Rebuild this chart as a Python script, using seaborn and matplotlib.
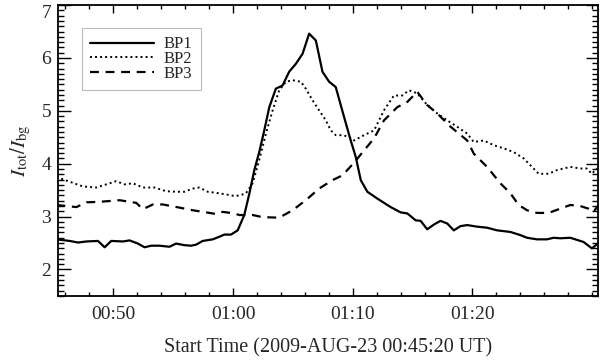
import numpy as np
import pandas as pd
import matplotlib
matplotlib.use("Agg")
import matplotlib.pyplot as plt
import seaborn as sns
from matplotlib.ticker import MultipleLocator, FuncFormatter

# ================= DATA =================
# time in minutes after 00:00 UT, ratio I_tot / I_bg
bp1_t = [45.25, 46.36, 47.06, 47.75, 48.72, 49.28, 49.83, 50.81, 51.36, 52.06,
         52.61, 53.17, 53.86, 54.69, 55.25, 55.94, 56.50, 56.92, 57.47, 58.31,
         58.86, 59.28, 59.83, 60.39, 60.94, 61.36, 61.78, 62.19, 62.61, 63.03,
         63.58, 64.14, 64.69, 65.25, 65.81, 66.36, 66.92, 67.47, 68.03, 68.58,
         69.28, 69.83, 70.25, 70.67, 71.22, 72.06, 73.17, 74.00, 74.56, 75.25,
         75.67, 76.22, 76.78, 77.33, 77.89, 78.44, 79.00, 79.56, 80.39, 81.22,
         82.06, 83.17, 84.00, 84.56, 85.39, 86.22, 86.78, 87.33, 88.17, 89.28,
         89.97, 90.53]
bp1_v = [2.57, 2.54, 2.51, 2.53, 2.54, 2.42, 2.54, 2.53, 2.55, 2.49,
         2.42, 2.45, 2.45, 2.43, 2.49, 2.46, 2.45, 2.47, 2.54, 2.57,
         2.62, 2.66, 2.66, 2.74, 3.03, 3.43, 3.88, 4.22, 4.63, 5.07,
         5.42, 5.48, 5.74, 5.89, 6.08, 6.46, 6.33, 5.74, 5.55, 5.45,
         4.88, 4.44, 4.13, 3.69, 3.47, 3.34, 3.18, 3.08, 3.06, 2.93,
         2.92, 2.76, 2.85, 2.92, 2.87, 2.74, 2.82, 2.84, 2.81, 2.79,
         2.74, 2.71, 2.65, 2.60, 2.57, 2.57, 2.60, 2.59, 2.60, 2.52,
         2.40, 2.50]

bp2_t = [45.25, 46.36, 47.47, 48.58, 49.42, 50.25, 50.94, 51.64, 52.47, 53.44,
         54.42, 55.25, 55.94, 56.64, 57.19, 57.89, 58.58, 59.42, 60.11, 60.53,
         61.08, 61.64, 62.19, 62.75, 63.31, 63.86, 64.42, 64.97, 65.67, 66.08,
         66.64, 67.19, 67.75, 68.17, 68.58, 69.14, 69.69, 70.11, 70.94, 71.78,
         72.61, 73.44, 74.14, 74.69, 75.39, 76.22, 77.06, 77.89, 78.72, 79.56,
         80.11, 80.94, 81.78, 82.61, 83.44, 84.28, 84.97, 85.53, 86.36, 87.06,
         87.61, 88.17, 89.00, 89.56, 89.97, 90.39]
bp2_v = [3.75, 3.66, 3.57, 3.55, 3.61, 3.67, 3.61, 3.63, 3.55, 3.55,
         3.48, 3.47, 3.47, 3.53, 3.55, 3.47, 3.45, 3.42, 3.39, 3.40,
         3.44, 3.63, 4.07, 4.57, 5.01, 5.39, 5.55, 5.58, 5.55, 5.42,
         5.20, 5.01, 4.82, 4.63, 4.54, 4.54, 4.51, 4.44, 4.54, 4.63,
         5.01, 5.29, 5.29, 5.39, 5.33, 5.11, 4.95, 4.82, 4.70, 4.57,
         4.41, 4.44, 4.35, 4.29, 4.22, 4.10, 3.94, 3.81, 3.81, 3.88,
         3.91, 3.94, 3.91, 3.91, 3.81, 3.91]

bp3_t = [45.25, 46.92, 47.75, 48.86, 50.53, 51.92, 52.47, 53.31, 54.14, 55.53,
         56.64, 57.75, 58.58, 59.14, 60.11, 60.53, 61.64, 62.47, 63.86, 64.97,
         66.08, 67.19, 68.31, 69.14, 70.11, 70.94, 71.78, 72.61, 73.72, 74.56,
         75.39, 76.22, 77.06, 78.17, 79.56, 80.11, 81.22, 82.33, 83.17, 83.86,
         84.56, 85.39, 86.36, 87.33, 88.17, 89.00, 89.69, 90.11, 90.53]
bp3_v = [3.22, 3.18, 3.27, 3.28, 3.31, 3.26, 3.14, 3.23, 3.23, 3.17,
         3.12, 3.08, 3.05, 3.09, 3.06, 3.03, 3.03, 2.99, 2.98, 3.12,
         3.31, 3.53, 3.69, 3.78, 4.02, 4.25, 4.48, 4.82, 5.07, 5.17,
         5.36, 5.11, 4.95, 4.70, 4.44, 4.19, 3.94, 3.63, 3.44, 3.22,
         3.12, 3.07, 3.07, 3.15, 3.22, 3.20, 3.15, 3.09, 3.22]

labels = ["BP1", "BP2", "BP3"]
tick_times = [50, 60, 70, 80]

# ================= STYLE =================
sns.set_style("ticks")
plt.rcParams['font.family'] = ['Liberation Serif', 'DejaVu Serif']
plt.rcParams['mathtext.fontset'] = 'stix'

frames = []
for name, t, v in zip(labels, [bp1_t, bp2_t, bp3_t], [bp1_v, bp2_v, bp3_v]):
    frames.append(pd.DataFrame({'time': t, 'ratio': v, 'bp': name}))
df = pd.concat(frames, ignore_index=True)

styles = {
    "BP1": dict(linestyle='-', linewidth=1.6),
    "BP2": dict(linestyle=(0, (1, 1.6)), linewidth=1.4),
    "BP3": dict(linestyle=(0, (4, 3)), linewidth=1.6),
}

fig = plt.figure(figsize=(6.0, 3.64), dpi=100)
ax = fig.add_axes([0.097, 0.187, 0.90, 0.799])

for name in labels:
    sub = df[df['bp'] == name]
    sns.lineplot(data=sub, x='time', y='ratio', ax=ax, color='black',
                 label=name, estimator=None, sort=False, **styles[name])

ax.set_xlim(45.4, 90.5)
ax.set_ylim(1.5, 7.0)
ax.set_xticks(tick_times)
ax.xaxis.set_major_formatter(FuncFormatter(
    lambda m, _: f"{int(m) // 60:02d}:{int(m) % 60:02d}"))
ax.xaxis.set_minor_locator(MultipleLocator(2))
ax.set_yticks([2, 3, 4, 5, 6, 7])
ax.yaxis.set_minor_locator(MultipleLocator(0.1))

ax.tick_params(which='both', direction='in', top=True, right=True,
               labelsize=14, color='black', width=1.0)
ax.tick_params(axis='x', which='major', length=6, pad=7)
ax.tick_params(axis='x', which='minor', length=3)
ax.tick_params(axis='y', which='major', length=9, pad=5)
ax.tick_params(axis='y', which='minor', length=4)
for s in ax.spines.values():
    s.set_linewidth(1.3)
    s.set_color('black')

# top label sits just below the frame edge, as in the original
fig.canvas.draw()
ax.get_yticklabels()[-1].set_va('top')

ax.set_xlabel("Start Time (2009-AUG-23 00:45:20 UT)", fontsize=14.5, labelpad=11)
ax.set_ylabel(r"$I_{\rm tot}/I_{\rm bg}$", fontsize=15, labelpad=6)

leg = ax.legend(loc='upper left', bbox_to_anchor=(0.044, 0.921),
                borderaxespad=0, fontsize=12, handlelength=3.8,
                fancybox=False, frameon=True, labelspacing=-0.08,
                borderpad=0.5, handletextpad=0.6)
leg.get_frame().set_edgecolor('#aaaaaa')
leg.get_frame().set_linewidth(0.8)

fig.savefig("out.png", dpi=100)
